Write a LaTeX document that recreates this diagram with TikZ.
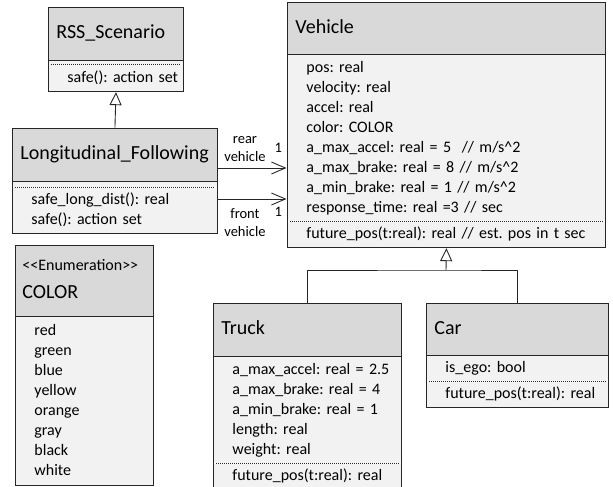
\documentclass[tikz,border=0pt]{standalone}
\usepackage{fontspec}
\setmainfont{Carlito}
\usetikzlibrary{arrows.meta, positioning, fit}

\definecolor{headgrey}{HTML}{D9D9D9}
\definecolor{bodygrey}{HTML}{F2F2F2}
\definecolor{edge}{HTML}{262626}

\begin{document}
\frenchspacing
\begin{tikzpicture}[
  x=1pt, y=-1pt,
  head/.style={draw=edge, line width=0.9pt, fill=headgrey, anchor=north west,
    inner sep=0pt, text width=#1, minimum width=#1, minimum height=53, align=left,
    font=\fontsize{20}{24}\selectfont, execute at begin node={\leftskip=8pt\strut}},
  comp/.style={fill=bodygrey, inner sep=0pt, text width=#1, minimum width=#1,
    align=left, font=\fontsize{16}{20}\selectfont,
    execute at begin node={\leftskip=19pt\strut}, execute at end node={\strut}},
  gap/.style={fill=bodygrey, inner sep=0pt, minimum width=#1},
  frame/.style={draw=edge, line width=0.9pt, inner sep=0pt},
  sep/.style={draw=edge, line width=0.6pt, dash pattern=on 1pt off 1pt},
  wire/.style={draw=edge, line width=0.9pt},
  assoc/.style={wire, -{Straight Barb[length=14pt, width=12pt]}},
  inherit/.style={wire, -{Triangle[open, length=13pt, width=12pt]}},
  lbl/.style={font=\fontsize{14.5}{18}\selectfont, align=center, inner sep=1pt}
]
  \useasboundingbox (0,0) rectangle (613,487);

  % RSS_Scenario
  \node[head=135] (rsshead) at (48,7) {RSS\_Scenario};
  \node[gap=135, minimum height=3, below=0pt of rsshead] (rssattr) {};
  \node[comp=135, minimum height=27, below=0pt of rssattr] (rssops) {safe(): action set};
  \node[frame, fit=(rsshead)(rssops)] (rss) {};
  \draw[sep] ([xshift=3pt]rssattr.south west) -- ([xshift=-3pt]rssattr.south east);

  % Longitudinal_Following
  \node[head=205] (lfhead) at (12,128) {Longitudinal\_Following};
  \node[gap=205, minimum height=5, below=0pt of lfhead] (lfattr) {};
  \node[comp=205, minimum height=46, below=0pt of lfattr] (lfops)
    {safe\_long\_dist(): real\\safe(): action set};
  \node[frame, fit=(lfhead)(lfops)] (lf) {};
  \draw[sep] ([xshift=3pt]lfattr.south west) -- ([xshift=-3pt]lfattr.south east);

  % COLOR enumeration
  \node[head=138, minimum height=71, execute at begin node={\leftskip=7pt}] (colhead) at (15,245)
    {{\fontsize{16}{20}\selectfont <\kern0pt<Enumeration>\kern0pt>}\\[4pt]COLOR\rule[-10pt]{0pt}{10pt}};
  \node[comp=138, minimum height=168, below=0pt of colhead] (colitems)
    {red\\green\\blue\\yellow\\orange\\gray\\black\\white};
  \node[frame, fit=(colhead)(colitems)] (color) {};

  % Vehicle
  \node[head=318, minimum height=52] (vhead) at (287,2) {Vehicle};
  \node[comp=318, minimum height=166, below=0pt of vhead] (vattr)
    {pos: real\\velocity: real\\accel: real\\color: COLOR\\
     a\_max\_accel: real = 5 \ // m/s\textasciicircum 2\\
     a\_max\_brake: real = 8 // m/s\textasciicircum 2\\
     a\_min\_brake: real = 1 // m/s\textasciicircum 2\\
     response\_time: real =3 // sec};
  \node[comp=318, minimum height=26, below=0pt of vattr] (vops)
    {future\_pos(t:real): real // est. pos in t sec};
  \node[frame, fit=(vhead)(vops)] (vehicle) {};
  \draw[sep] ([xshift=3pt]vattr.south west) -- ([xshift=-3pt]vattr.south east);

  % Truck
  \node[head=188] (truckhead) at (213,303) {Truck};
  \node[comp=188, minimum height=106, below=0pt of truckhead] (truckattr)
    {a\_max\_accel: real = 2.5\\a\_max\_brake: real = 4\\a\_min\_brake: real = 1\\
     length: real\\weight: real};
  \node[comp=188, minimum height=25, below=0pt of truckattr] (truckops)
    {future\_pos(t:real): real};
  \node[frame, fit=(truckhead)(truckops)] (truck) {};
  \draw[sep] ([xshift=3pt]truckattr.south west) -- ([xshift=-3pt]truckattr.south east);

  % Car
  \node[head=182, minimum height=52] (carhead) at (426,303) {Car};
  \node[comp=182, minimum height=25, below=0pt of carhead] (carattr) {is\_ego: bool};
  \node[comp=182, minimum height=26, below=0pt of carattr] (carops)
    {future\_pos(t:real): real};
  \node[frame, fit=(carhead)(carops)] (car) {};
  \draw[sep] ([xshift=3pt]carattr.south west) -- ([xshift=-3pt]carattr.south east);

  % associations
  \coordinate (rear) at (0,168);
  \coordinate (front) at (0,199);
  \draw[assoc] (lf.east |- rear)
    -- node[lbl, pos=0.39, above=5pt] {rear\\vehicle}
       node[lbl, pos=0.88, above=14pt] {1} (vehicle.west |- rear);
  \draw[assoc] (lf.east |- front)
    -- node[lbl, pos=0.39, below=8.5pt] {front\\vehicle}
       node[lbl, pos=0.88, below=7pt] {1} (vehicle.west |- front);

  % generalisations
  \draw[inherit] (lf.north) -- (rss.south);
  \coordinate (split) at (446,270);
  \draw[wire] (truck.north) |- (split) -| (car.north);
  \draw[inherit] (split) -- (vehicle.south);
\end{tikzpicture}
\end{document}
